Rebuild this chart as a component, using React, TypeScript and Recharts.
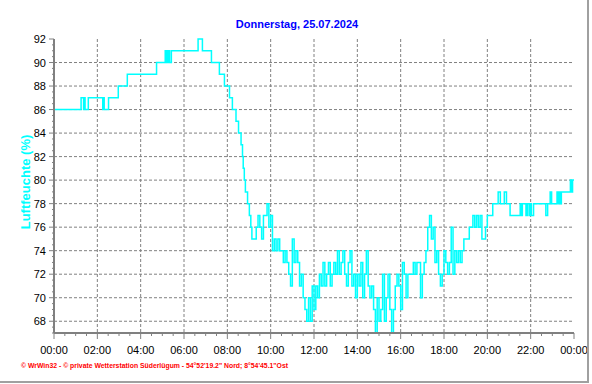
import { CartesianGrid, Line, LineChart, XAxis, YAxis } from "recharts";

// Luftfeuchte vom 25.07.2024, Zeit in Minuten seit Mitternacht.
// Werte als Treppenkurve (Wechselpunkte).

const morgenMinuten = [
  0, 75, 82, 84, 86, 95, 135, 137, 139, 151, 178, 203, 284, 308, 310, 313,
  315, 318, 320, 325, 399, 411, 436, 458, 472, 486, 494, 504, 511, 518, 522,
  524, 527, 530, 536, 541, 545, 548, 560,
];
const morgenFeuchte = [
  86, 87, 86, 87, 86, 87, 86, 87, 86, 87, 88, 89, 90, 91, 90, 91, 90, 91, 90,
  91, 92, 91, 90, 89, 88, 87, 86, 85, 84, 83, 82, 81, 80, 79, 78, 77, 76, 75,
  76,
];

const mittagMinuten = [
  565, 570, 575, 580, 585, 590, 595, 600, 605, 610, 615, 620, 625, 630, 635,
  640, 645, 650, 655, 660, 665, 670, 675, 680, 685, 690, 695, 700, 705, 710,
  715, 720, 725, 730, 735, 740, 745, 750, 755, 760, 765, 770, 775, 780, 785,
  790, 795, 800, 805, 810, 815, 820, 825, 830, 835, 840, 845, 850, 855, 860,
  865, 870, 875, 880, 885, 890, 895, 900, 905, 910, 915, 920, 925, 930, 935,
  940, 945, 950, 955, 960,
];
const mittagFeuchte = [
  77, 76, 75, 77, 77, 78, 76, 77, 74, 75, 74, 75, 74, 74, 73, 74, 73, 72, 71,
  75, 73, 74, 73, 71, 72, 70, 69, 68, 70, 68, 71, 69, 71, 70, 72, 71, 73, 71,
  72, 73, 71, 72, 73, 72, 74, 72, 73, 74, 72, 71, 73, 74, 71, 72, 70, 72, 71,
  73, 70, 72, 74, 71, 70, 71, 69, 67, 70, 68, 69, 72, 68, 70, 72, 69, 67, 69,
  71, 72, 71, 69,
];

const abendMinuten = [
  965, 970, 975, 980, 985, 990, 995, 1000, 1005, 1010, 1015, 1020, 1025, 1030,
  1035, 1040, 1045, 1050, 1055, 1060, 1065, 1070, 1075, 1080, 1085, 1090,
  1095, 1100, 1105, 1110, 1115, 1120, 1125, 1130, 1135, 1150, 1160, 1165,
  1170, 1175, 1180, 1185, 1195, 1200, 1215, 1230, 1236, 1247, 1253, 1263,
  1291, 1294, 1297, 1307, 1311, 1316, 1319, 1322, 1328, 1362, 1367, 1374,
  1378, 1393, 1396, 1399, 1402, 1405, 1430, 1433, 1436, 1440,
];
const abendFeuchte = [
  73, 72, 70, 72, 72, 72, 73, 72, 73, 73, 70, 72, 73, 74, 76, 77, 75, 76, 73,
  74, 72, 71, 72, 74, 73, 72, 73, 76, 72, 74, 73, 74, 73, 74, 75, 76, 77, 76,
  77, 76, 77, 75, 76, 77, 78, 79, 78, 79, 78, 77, 78, 77, 78, 77, 78, 77, 78,
  77, 78, 77, 78, 79, 78, 79, 78, 79, 78, 79, 80, 79, 80, 80,
];

const zeitTicks = [0, 120, 240, 360, 480, 600, 720, 840, 960, 1080, 1200, 1320, 1440];
const zeitLabels = [
  "00:00", "02:00", "04:00", "06:00", "08:00", "10:00", "12:00",
  "14:00", "16:00", "18:00", "20:00", "22:00", "00:00",
];
const feuchteTicks = [68, 70, 72, 74, 76, 78, 80, 82, 84, 86, 88, 90, 92];

const titel = "Donnerstag, 25.07.2024";
const achsenTitel = "Luftfeuchte (%)";
const fusszeile =
  "\u00a9 WrWin32  -  \u00a9 private Wetterstation S\u00fcderl\u00fcgum  -  54\u00b052'19.2\" Nord; 8\u00b054'45.1\"Ost";

const data = [
  ...morgenMinuten.map((t, i) => ({ t, rh: morgenFeuchte[i] })),
  ...mittagMinuten.map((t, i) => ({ t, rh: mittagFeuchte[i] })),
  ...abendMinuten.map((t, i) => ({ t, rh: abendFeuchte[i] })),
];

// kleine Striche alle 30 min bzw. 0,5 %
const zeitMinor: number[] = [];
for (let m = 0; m <= 1440; m += 30) zeitMinor.push(m);
const feuchteMinor: number[] = [];
for (let v = 67; v <= 92; v += 0.5) feuchteMinor.push(v);

const font = "'Liberation Sans', Arial, sans-serif";
const grau = "#808080";

function ZeitTick(props: any) {
  const { x, y, payload } = props;
  const idx = zeitTicks.indexOf(payload.value);
  const major = idx >= 0;
  return (
    <g>
      <line x1={x} x2={x} y1={y} y2={y + (major ? 6 : 3)} stroke={grau} />
      {major && (
        <text x={x} y={y + 21} textAnchor="middle" fontSize={11} fontFamily={font} fill="#000">
          {zeitLabels[idx]}
        </text>
      )}
    </g>
  );
}

function FeuchteTick(props: any) {
  const { x, y, payload } = props;
  const major = feuchteTicks.includes(payload.value);
  return (
    <g>
      <line x1={x - (major ? 5 : 2)} x2={x} y1={y} y2={y} stroke={grau} />
      {major && (
        <text x={x - 8} y={y + 4} textAnchor="end" fontSize={11} fontFamily={font} fill="#000">
          {payload.value}
        </text>
      )}
    </g>
  );
}

export default function App() {
  return (
    <div style={{ position: "absolute", left: 0, top: 0, width: 592, height: 384, background: "#fff" }}>
      <LineChart
        width={592}
        height={384}
        data={data}
        margin={{ top: 39, right: 18, bottom: 0, left: 0 }}
      >
        <CartesianGrid
          stroke={grau}
          strokeDasharray="3 2"
          horizontalValues={feuchteTicks.slice(0, -1)}
          verticalValues={zeitTicks.slice(1, -1)}
        />
        <XAxis
          dataKey="t"
          type="number"
          domain={[0, 1440]}
          ticks={zeitMinor}
          interval={0}
          height={51}
          tickSize={0}
          tickMargin={0}
          tick={<ZeitTick />}
          tickLine={false}
          axisLine={{ stroke: grau, strokeWidth: 2 }}
        />
        <XAxis
          xAxisId="oben"
          dataKey="t"
          type="number"
          domain={[0, 1440]}
          orientation="top"
          height={0}
          tick={false}
          tickLine={false}
          axisLine={{ stroke: "#000", strokeWidth: 2 }}
        />
        <YAxis
          type="number"
          domain={[67, 92]}
          ticks={feuchteMinor}
          interval={0}
          width={54}
          tickSize={0}
          tickMargin={0}
          tick={<FeuchteTick />}
          tickLine={false}
          axisLine={{ stroke: grau, strokeWidth: 2 }}
        />
        <YAxis
          yAxisId="rechts"
          type="number"
          domain={[67, 92]}
          orientation="right"
          width={0}
          tick={false}
          tickLine={false}
          axisLine={{ stroke: "#000", strokeWidth: 2 }}
        />
        <Line
          type="stepAfter"
          dataKey="rh"
          stroke="#00ffff"
          strokeWidth={1.5}
          dot={false}
          activeDot={false}
          isAnimationActive={false}
        />
      </LineChart>
      <svg
        width={592}
        height={384}
        style={{ position: "absolute", left: 0, top: 0, pointerEvents: "none" }}
      >
        <text x={297} y={28} textAnchor="middle" fontSize={11} fontWeight="bold" fontFamily={font} fill="#0000ff">
          {titel}
        </text>
        <text
          x={0}
          y={0}
          transform="translate(30 182) rotate(-90)"
          textAnchor="middle"
          fontSize={13}
          fontWeight="bold"
          fontFamily={font}
          fill="#00ffff"
        >
          {achsenTitel}
        </text>
        <text
          x={21}
          y={368}
          fontSize={7}
          fontWeight="bold"
          fontFamily={font}
          fill="#ff0000"
          textLength={267}
          lengthAdjust="spacingAndGlyphs"
        >
          {fusszeile}
        </text>
        <line x1={588} x2={588} y1={0} y2={383} stroke="#a0a0a0" strokeWidth={2} />
        <line x1={0} x2={589} y1={382} y2={382} stroke="#a0a0a0" strokeWidth={2} />
      </svg>
    </div>
  );
}
